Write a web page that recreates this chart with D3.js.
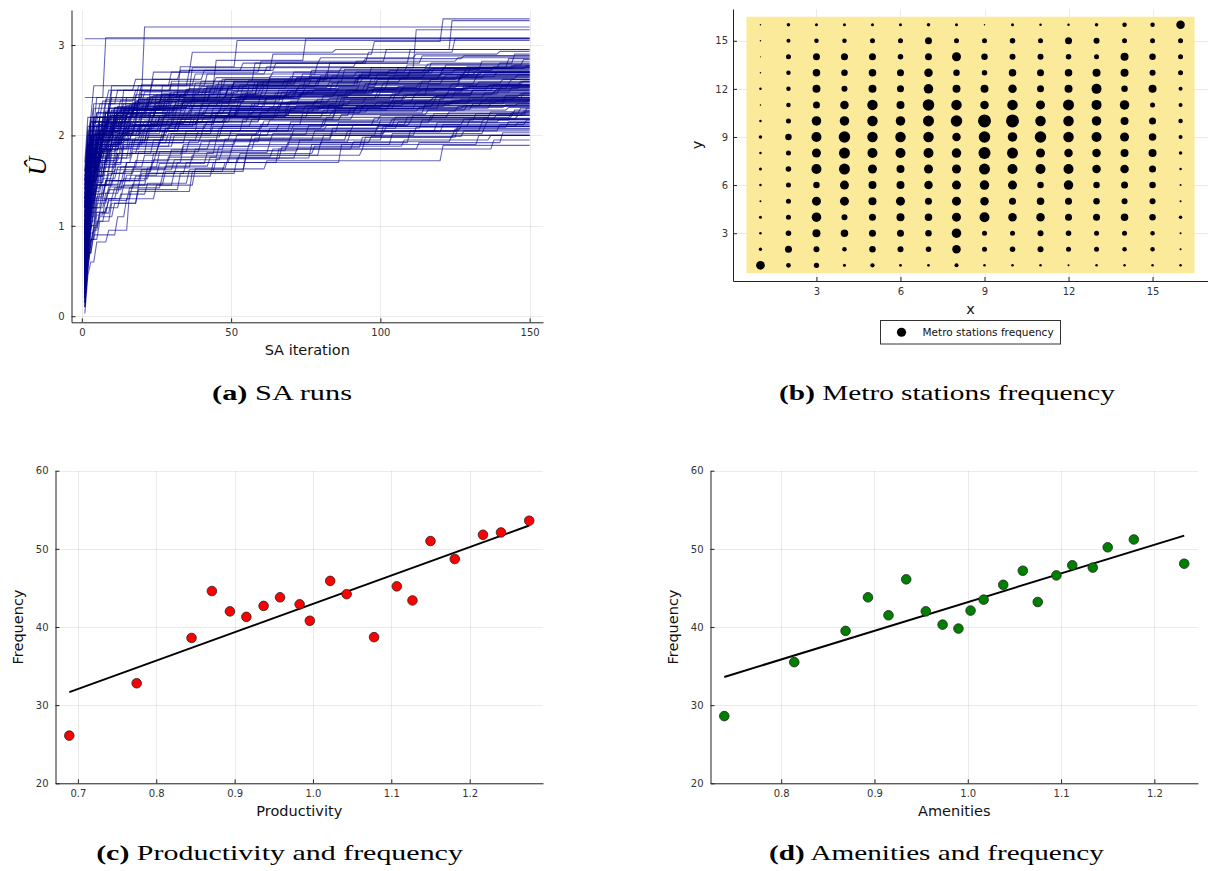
<!DOCTYPE html>
<html>
<head>
<meta charset="utf-8">
<script src="https://cdn.jsdelivr.net/npm/d3@7"></script>
<style>
  body { margin: 0; background: #fff; }
  svg { display: block; }
  .axis-label { font-family: "DejaVu Sans", sans-serif; font-size: 14.5px; fill: #111; }
  .caption { font-family: "Liberation Serif", serif; font-size: 21px; fill: #000; }
</style>
</head>
<body>
<svg id="chart" width="1208" height="871"></svg>
<script>
// (a) SA runs: best value so far, as [iteration, value] at each improvement
const saRuns = [
  [[1,3.07]],
  [[1,0.4],[2,1.6],[3,2.1],[5,2.42],[8,3.08]],
  [[1,2.42],[21,3.2]],
  [[1,0.1],[2,0.9],[3,1.5],[5,1.9],[9,2.2],[18,2.45],[33,2.76],[52,3.05]],
  [[1,0.8],[2,1.7],[4,2.0],[11,2.3],[27,2.55],[45,2.83],[75,3.07]],
  [[1,0.5],[2,1.2],[3,1.8],[6,2.2],[14,2.5],[37,2.75],[112,3.17]],
  [[1,1.1],[2,1.9],[4,2.3],[10,2.55],[36,2.72],[64,2.9],[98,3.04],[121,3.29]],
  [[1,0.3],[2,1.0],[3,1.6],[7,2.1],[19,2.4],[47,2.62],[83,2.8],[110,2.95],[124,3.27]],
  [[1,0.7],[2,1.5],[4,2.0],[9,2.35],[30,2.6],[58,2.8],[96,2.92],[125,3.07]],
  [[1,0.03],[2,0.45],[3,0.6],[5,0.82],[9,0.95],[16,1.38],[37,1.6],[48,1.7],[87,1.9],[133,2.0]],
  [[1,0.2],[2,0.7],[4,0.9],[12,1.1],[15,1.3],[25,1.45],[38,1.63],[62,1.72],[121,1.89]],
  [[1,0.15],[2,0.55],[3,0.85],[6,1.05],[10,1.25],[19,1.45],[31,1.6],[55,1.78],[94,1.85],[138,1.95]],
  [[1,0.6],[2,1.1],[4,1.35],[8,1.5],[22,1.64],[49,1.75],[72,1.85],[113,1.92],[141,2.03]],
  [[1,0.9],[2,1.4],[3,1.6],[7,1.75],[17,1.85],[43,1.95],[89,2.05],[127,2.1]],
  [[1,1.3],[2,1.7],[5,1.85],[13,1.95],[28,2.05],[66,2.12],[104,2.18],[146,2.22]],
  [[1,0.4],[2,0.95],[3,1.2],[5,1.45],[11,1.62],[24,1.8],[45,1.95],[78,2.05],[119,2.14]],
  [[1,0.25],[2,0.8],[3,1.1],[4,1.3],[8,1.5],[15,1.7],[34,1.88],[57,2.0],[101,2.1],[136,2.17]],
  [[1,1.0],[2,1.5],[3,1.8],[6,2.0],[16,2.12],[39,2.2],[81,2.28],[129,2.33]],
  [[1,0.55],[2,1.3],[4,1.7],[7,1.9],[14,2.05],[32,2.15],[60,2.25],[92,2.32],[118,2.38]],
  [[1,1.5],[2,1.9],[4,2.1],[12,2.2],[29,2.3],[70,2.38],[108,2.45]],
  [[1,0.35],[2,1.05],[3,1.4],[5,1.65],[10,1.85],[20,2.0],[41,2.12],[74,2.25],[115,2.35],[142,2.4]],
  [[1,0.75],[2,1.35],[3,1.65],[6,1.9],[13,2.1],[26,2.22],[53,2.35],[86,2.44],[131,2.5]],
  [[1,0.45],[2,1.2],[3,1.55],[5,1.8],[9,2.0],[18,2.18],[37,2.3],[65,2.4],[99,2.48],[128,2.55]],
  [[1,1.2],[2,1.75],[4,2.05],[8,2.25],[21,2.4],[46,2.5],[84,2.58],[117,2.62]],
  [[1,0.65],[2,1.45],[3,1.85],[6,2.1],[15,2.3],[33,2.45],[59,2.55],[93,2.65],[139,2.7]],
  [[1,0.95],[2,1.65],[4,2.0],[9,2.3],[23,2.5],[48,2.62],[77,2.72],[122,2.78]],
  [[1,0.3],[2,1.15],[3,1.6],[5,1.95],[11,2.25],[25,2.45],[51,2.6],[88,2.73],[134,2.82]],
  [[1,1.4],[2,1.95],[3,2.2],[8,2.4],[19,2.55],[42,2.68],[79,2.8],[114,2.88]],
  [[1,0.85],[2,1.55],[3,1.9],[7,2.15],[17,2.35],[35,2.5],[63,2.65],[97,2.75],[143,2.85]],
  [[1,0.5],[2,1.25],[3,1.65],[5,1.95],[12,2.2],[30,2.4],[56,2.55],[103,2.65],[130,2.74]],
  [[1,1.05],[2,1.6],[4,1.9],[10,2.05],[24,2.15],[50,2.22],[90,2.3],[137,2.36]],
  [[1,0.2],[2,0.85],[3,1.25],[4,1.5],[7,1.7],[14,1.9],[27,2.05],[54,2.18],[85,2.27],[126,2.32]],
  [[1,0.7],[2,1.3],[3,1.6],[6,1.8],[12,1.95],[28,2.08],[61,2.16],[100,2.22],[145,2.28]],
  [[1,1.25],[2,1.8],[5,2.05],[15,2.2],[36,2.28],[67,2.36],[111,2.42],[148,2.47]],
  [[1,0.4],[2,1.1],[3,1.45],[5,1.7],[9,1.9],[21,2.05],[44,2.2],[76,2.3],[120,2.41]],
  [[1,0.9],[2,1.5],[3,1.75],[7,1.95],[16,2.1],[38,2.25],[69,2.37],[105,2.46],[140,2.52]],
  [[1,0.6],[2,1.4],[4,1.8],[8,2.0],[20,2.2],[40,2.35],[73,2.45],[116,2.56]],
  [[1,1.6],[2,2.05],[5,2.25],[14,2.35],[31,2.43],[62,2.5],[95,2.57],[132,2.64]],
  [[1,0.35],[2,1.0],[3,1.35],[5,1.6],[10,1.8],[22,1.98],[47,2.1],[82,2.2],[123,2.26]],
  [[1,0.8],[2,1.45],[3,1.7],[6,1.88],[13,2.0],[29,2.1],[57,2.18],[91,2.24],[147,2.3]],
  [[1,1.15],[2,1.7],[4,1.95],[11,2.1],[26,2.2],[52,2.28],[80,2.34],[124,2.39]],
  [[1,0.25],[2,0.95],[3,1.3],[4,1.55],[8,1.78],[17,1.95],[39,2.05],[71,2.12],[109,2.2],[144,2.25]],
  [[1,1.35],[2,1.85],[3,2.1],[9,2.3],[23,2.42],[49,2.52],[86,2.6],[127,2.67]],
  [[1,0.55],[2,1.2],[3,1.5],[6,1.72],[13,1.88],[31,2.0],[63,2.08],[106,2.15],[135,2.19]],
  [[1,0.45],[2,1.3],[3,1.75],[6,2.05],[14,2.3],[32,2.48],[58,2.6],[99,2.68],[129,2.76]],
  [[1,1.0],[2,1.6],[3,1.95],[8,2.2],[18,2.38],[43,2.52],[75,2.63],[110,2.7]],
  [[1,0.15],[2,0.75],[3,1.15],[4,1.4],[6,1.6],[12,1.8],[24,1.95],[46,2.08],[81,2.17],[118,2.24],[149,2.3]],
  [[1,1.45],[2,1.9],[4,2.15],[10,2.28],[27,2.37],[55,2.44],[89,2.5],[136,2.55]],
  [[1,0.65],[2,1.35],[3,1.7],[5,1.9],[11,2.08],[25,2.2],[50,2.32],[87,2.42],[125,2.48]],
  [[1,0.85],[2,1.5],[4,1.85],[9,2.05],[20,2.2],[44,2.3],[78,2.38],[119,2.44]],
  [[1,0.3],[2,0.9],[3,1.2],[5,1.45],[9,1.65],[19,1.82],[36,1.94],[64,2.02],[102,2.1],[146,2.14]],
  [[1,1.2],[2,1.75],[3,2.0],[7,2.18],[16,2.3],[35,2.4],[66,2.5],[101,2.58],[141,2.62]],
  [[1,0.5],[2,1.15],[3,1.5],[5,1.75],[10,1.95],[23,2.12],[45,2.25],[83,2.35],[130,2.42]],
  [[1,0.95],[2,1.55],[3,1.8],[6,1.98],[15,2.12],[37,2.22],[70,2.3],[112,2.37],[150,2.4]],
  [[1,0.4],[2,1.25],[3,1.65],[5,2.0],[11,2.25],[28,2.42],[54,2.55],[92,2.64],[133,2.7]],
  [[1,1.3],[2,1.85],[4,2.15],[12,2.32],[30,2.45],[61,2.55],[97,2.63],[128,2.7]],
  [[1,0.7],[2,1.4],[3,1.8],[7,2.08],[17,2.28],[41,2.42],[72,2.52],[114,2.6]],
  [[1,0.1],[2,0.6],[3,0.95],[4,1.2],[7,1.45],[13,1.65],[26,1.82],[51,1.95],[84,2.04],[126,2.1]],
  [[1,1.55],[2,2.0],[4,2.2],[13,2.3],[34,2.37],[68,2.45],[107,2.52],[143,2.58]],
  [[1,0.6],[2,1.3],[3,1.65],[6,1.88],[14,2.05],[33,2.18],[65,2.28],[103,2.35],[137,2.4]],
  [[1,0.9],[2,1.6],[3,1.95],[7,2.2],[19,2.4],[42,2.55],[80,2.66],[121,2.75]],
  [[1,0.35],[2,1.05],[3,1.45],[5,1.72],[10,1.92],[22,2.08],[48,2.2],[85,2.29],[131,2.35]],
  [[1,1.1],[2,1.7],[4,2.0],[10,2.2],[25,2.33],[53,2.43],[90,2.5],[138,2.56]],
  [[1,0.75],[2,1.45],[3,1.8],[6,2.05],[15,2.25],[34,2.38],[67,2.48],[108,2.55],[147,2.6]],
  [[1,0.45],[2,1.15],[3,1.55],[5,1.82],[12,2.02],[27,2.15],[56,2.25],[94,2.33],[134,2.38]],
  [[1,1.4],[2,1.9],[3,2.15],[8,2.35],[21,2.48],[46,2.6],[82,2.7],[117,2.8],[145,2.9]],
  [[1,0.55],[2,1.35],[3,1.75],[6,2.05],[13,2.28],[29,2.45],[59,2.58],[93,2.67],[132,2.72]],
  [[1,0.2],[2,0.8],[3,1.2],[4,1.45],[7,1.68],[14,1.88],[30,2.02],[60,2.12],[98,2.19],[139,2.23]],
  [[1,1.0],[2,1.55],[3,1.85],[6,2.05],[14,2.2],[32,2.32],[62,2.42],[100,2.48],[144,2.53]],
  [[1,0.65],[2,1.5],[3,1.9],[6,2.2],[15,2.42],[38,2.58],[71,2.7],[109,2.78],[148,2.84]],
  [[1,1.2],[2,1.8],[4,2.1],[9,2.3],[20,2.45],[45,2.56],[77,2.64],[115,2.7]],
  [[1,0.8],[2,1.45],[3,1.75],[5,1.95],[11,2.1],[24,2.22],[52,2.32],[88,2.4],[122,2.46]],
  [[1,0.4],[2,1.0],[3,1.35],[5,1.6],[11,1.8],[26,1.95],[50,2.05],[91,2.12],[128,2.18]],
  [[1,1.5],[2,1.95],[3,2.2],[7,2.38],[18,2.5],[40,2.6],[74,2.68],[106,2.75],[140,2.8]],
  [[1,0.55],[2,1.25],[3,1.6],[6,1.85],[16,2.05],[39,2.2],[69,2.3],[105,2.38],[142,2.44]],
  [[1,0.95],[2,1.65],[3,2.0],[8,2.25],[22,2.42],[49,2.54],[79,2.62],[120,2.68]],
  [[1,0.25],[2,0.85],[3,1.25],[5,1.55],[8,1.75],[16,1.92],[35,2.05],[70,2.15],[111,2.22],[149,2.27]],
  [[1,1.3],[2,1.75],[4,2.0],[10,2.15],[28,2.26],[57,2.35],[95,2.42],[135,2.47]],
  [[1,0.7],[2,1.4],[3,1.7],[5,1.92],[10,2.1],[23,2.25],[47,2.36],[81,2.44],[123,2.5]],
  [[1,0.5],[2,1.2],[3,1.6],[6,1.9],[13,2.15],[31,2.33],[60,2.47],[96,2.56],[127,2.65]],
  [[1,0.9],[2,1.8],[4,2.2],[10,2.5],[24,2.7],[37,2.92],[85,2.95]],
  [[1,1.7],[2,2.2],[4,2.55],[30,2.7],[60,2.82],[102,2.95]],
  [[1,0.6],[2,1.2],[3,1.5],[4,1.7],[6,1.85],[9,1.98],[14,2.08],[21,2.16],[33,2.24],[48,2.3],[67,2.37],[88,2.42],[112,2.47],[139,2.51]],
  [[1,0.3],[2,0.9],[3,1.3],[4,1.55],[6,1.75],[8,1.9],[12,2.02],[18,2.12],[27,2.2],[41,2.28],[58,2.35],[79,2.4],[104,2.46],[131,2.5]],
  [[1,1.1],[2,1.5],[3,1.75],[5,1.92],[8,2.05],[13,2.15],[20,2.25],[31,2.33],[46,2.4],[65,2.47],[86,2.53],[113,2.58],[144,2.62]],
  [[1,0.8],[2,1.3],[3,1.55],[5,1.72],[7,1.84],[11,1.95],[17,2.04],[26,2.12],[39,2.19],[57,2.26],[78,2.31],[101,2.36],[127,2.4]],
  [[1,0.45],[2,1.05],[3,1.4],[4,1.62],[6,1.8],[10,1.96],[15,2.1],[23,2.22],[35,2.32],[50,2.42],[69,2.5],[93,2.57],[121,2.63],[146,2.67]],
  [[1,1.25],[2,1.65],[3,1.88],[5,2.02],[9,2.14],[14,2.24],[22,2.33],[34,2.41],[51,2.49],[73,2.56],[99,2.62],[126,2.66]],
  [[1,0.2],[2,0.7],[3,1.05],[4,1.3],[5,1.48],[8,1.65],[12,1.8],[19,1.92],[29,2.02],[44,2.1],[63,2.17],[87,2.23],[116,2.28],[143,2.31]],
  [[1,0.95],[2,1.45],[3,1.7],[4,1.86],[7,2.0],[11,2.12],[16,2.22],[25,2.3],[38,2.38],[55,2.45],[76,2.5],[102,2.55],[133,2.59]],
  [[1,0.55],[2,1.15],[3,1.5],[5,1.75],[7,1.9],[10,2.03],[16,2.14],[24,2.24],[37,2.33],[54,2.41],[74,2.47],[98,2.52],[124,2.57],[148,2.6]],
  [[1,1.45],[2,1.8],[3,2.0],[6,2.15],[10,2.26],[17,2.36],[27,2.45],[42,2.53],[61,2.6],[84,2.66],[110,2.72],[138,2.76]],
  [[1,0.35],[2,0.95],[3,1.3],[4,1.52],[6,1.7],[9,1.84],[13,1.96],[20,2.06],[30,2.14],[45,2.21],[66,2.27],[92,2.32],[122,2.36]],
  [[1,0.7],[2,1.35],[3,1.68],[5,1.9],[8,2.06],[12,2.18],[19,2.29],[28,2.38],[43,2.46],[60,2.53],[83,2.59],[107,2.64],[135,2.68]],
  [[1,1.05],[2,1.55],[3,1.82],[5,1.98],[8,2.1],[13,2.2],[21,2.28],[32,2.35],[47,2.4],[68,2.45],[91,2.49],[119,2.52],[147,2.55]],
  [[1,0.25],[2,0.85],[3,1.2],[4,1.45],[6,1.64],[9,1.8],[14,1.94],[22,2.05],[33,2.15],[49,2.23],[70,2.3],[95,2.35],[125,2.39]],
  [[1,0.85],[2,1.4],[3,1.72],[5,1.95],[8,2.12],[12,2.26],[18,2.37],[27,2.46],[40,2.54],[56,2.61],[77,2.67],[103,2.72],[132,2.75]],
  [[1,1.35],[2,1.7],[4,1.9],[7,2.03],[11,2.13],[18,2.22],[28,2.3],[43,2.37],[62,2.43],[85,2.48],[114,2.52],[141,2.55]],
  [[1,0.5],[2,1.1],[3,1.42],[4,1.62],[6,1.78],[9,1.9],[14,2.0],[21,2.08],[32,2.15],[48,2.21],[69,2.26],[96,2.3],[128,2.33]],
  [[1,0.65],[2,1.25],[3,1.6],[5,1.85],[7,2.0],[11,2.15],[17,2.28],[26,2.38],[38,2.47],[53,2.56],[72,2.63],[94,2.69],[118,2.74],[145,2.78]],
  [[1,1.15],[2,1.6],[3,1.85],[6,2.02],[10,2.14],[15,2.23],[24,2.31],[36,2.38],[52,2.43],[74,2.48],[100,2.51],[129,2.54]],
  [[1,0.4],[2,1.0],[3,1.38],[4,1.6],[6,1.77],[10,1.92],[15,2.04],[23,2.13],[35,2.2],[52,2.27],[75,2.33],[104,2.38],[136,2.42]],
  [[1,0.9],[2,1.5],[3,1.8],[5,2.0],[8,2.16],[12,2.28],[19,2.39],[30,2.48],[44,2.56],[63,2.63],[86,2.69],[115,2.74],[149,2.77]],
  [[1,0.15],[2,0.65],[3,1.0],[4,1.25],[5,1.42],[7,1.56],[11,1.7],[17,1.82],[26,1.92],[40,2.0],[59,2.06],[82,2.11],[110,2.15],[140,2.18]],
  [[1,1.5],[2,1.85],[3,2.05],[6,2.2],[11,2.31],[19,2.4],[31,2.48],[47,2.55],[68,2.61],[93,2.66],[121,2.7]],
  [[1,0.75],[2,1.3],[3,1.6],[5,1.8],[8,1.95],[12,2.06],[18,2.15],[28,2.23],[42,2.3],[61,2.36],[83,2.41],[109,2.45],[138,2.48]],
  [[1,0.6],[2,1.2],[3,1.55],[4,1.76],[7,1.94],[10,2.08],[16,2.2],[25,2.3],[37,2.39],[54,2.47],[75,2.54],[99,2.6],[127,2.65]],
  [[1,1.0],[2,1.5],[3,1.78],[5,1.96],[9,2.1],[14,2.2],[22,2.29],[34,2.36],[50,2.42],[71,2.47],[97,2.51],[130,2.54]],
  [[1,0.3],[2,0.9],[3,1.28],[4,1.52],[6,1.72],[9,1.88],[13,2.0],[20,2.11],[31,2.2],[46,2.28],[66,2.34],[90,2.39],[118,2.43],[147,2.46]],
  [[1,1.2],[2,1.7],[3,1.95],[5,2.1],[9,2.22],[15,2.33],[23,2.43],[35,2.51],[51,2.58],[72,2.64],[97,2.69],[125,2.73]],
  [[1,0.45],[2,1.1],[3,1.45],[4,1.66],[6,1.82],[9,1.95],[14,2.06],[22,2.15],[34,2.22],[50,2.28],[72,2.33],[99,2.37],[131,2.4]],
  [[1,0.85],[2,1.35],[3,1.62],[4,1.8],[7,1.93],[11,2.03],[17,2.11],[26,2.18],[39,2.24],[58,2.29],[81,2.33],[108,2.36],[139,2.38]],
  [[1,0.55],[2,1.25],[3,1.65],[5,1.92],[7,2.08],[11,2.22],[16,2.34],[24,2.44],[36,2.52],[51,2.59],[70,2.65],[92,2.7],[117,2.74],[144,2.77]],
  [[1,1.3],[2,1.75],[3,1.98],[6,2.12],[10,2.22],[16,2.3],[25,2.37],[38,2.42],[55,2.47],[78,2.51],[106,2.54],[137,2.56]],
  [[1,0.2],[2,0.75],[3,1.12],[4,1.38],[5,1.56],[8,1.72],[12,1.86],[18,1.98],[28,2.08],[42,2.16],[60,2.22],[84,2.27],[113,2.31],[142,2.34]],
  [[1,0.95],[2,1.6],[3,1.92],[5,2.12],[8,2.27],[13,2.39],[20,2.49],[30,2.57],[45,2.64],[64,2.7],[87,2.75],[116,2.79]],
  [[1,0.7],[2,1.3],[3,1.62],[4,1.82],[7,1.98],[10,2.1],[15,2.2],[23,2.28],[35,2.35],[52,2.41],[73,2.46],[98,2.5],[128,2.53]],
  [[1,1.4],[2,1.8],[4,2.02],[7,2.14],[12,2.24],[20,2.32],[32,2.39],[48,2.44],[70,2.49],[96,2.53],[126,2.56]],
  [[1,0.35],[2,1.0],[3,1.36],[4,1.58],[6,1.76],[8,1.88],[12,2.0],[19,2.1],[29,2.18],[44,2.25],[63,2.31],[88,2.36],[117,2.4],[145,2.42]],
  [[1,0.8],[2,1.45],[3,1.76],[5,1.97],[8,2.13],[12,2.25],[18,2.36],[28,2.45],[41,2.52],[59,2.58],[80,2.63],[105,2.67],[134,2.7]],
  [[1,0.5],[2,1.15],[3,1.48],[5,1.7],[7,1.84],[11,1.96],[17,2.06],[27,2.14],[41,2.21],[60,2.26],[85,2.3],[115,2.33],[146,2.35]],
  [[1,1.1],[2,1.65],[3,1.9],[5,2.06],[9,2.18],[14,2.28],[22,2.37],[33,2.45],[49,2.52],[69,2.58],[94,2.63],[122,2.67]],
  [[1,0.1],[2,0.5],[3,0.8],[4,1.0],[6,1.15],[9,1.3],[14,1.45],[22,1.58],[35,1.7],[53,1.8],[78,1.88],[108,1.95],[137,2.0]],
  [[1,0.3],[2,0.75],[3,1.0],[5,1.2],[8,1.36],[13,1.5],[20,1.62],[31,1.73],[47,1.83],[69,1.92],[97,1.99],[128,2.05]],
  [[1,0.5],[2,0.95],[4,1.15],[7,1.3],[11,1.42],[18,1.55],[28,1.66],[43,1.76],[64,1.85],[91,1.93],[124,2.0]],
  [[1,0.2],[2,0.6],[3,0.85],[5,1.05],[8,1.2],[13,1.35],[22,1.47],[36,1.62],[55,1.78],[80,1.92],[110,2.05],[140,2.12]],
  [[1,0.45],[2,0.8],[3,1.0],[5,1.15],[9,1.28],[16,1.42],[27,1.55],[44,1.7],[66,1.85],[95,1.98],[126,2.08]],
  [[1,0.35],[2,0.7],[4,0.95],[6,1.1],[11,1.25],[19,1.4],[33,1.58],[52,1.75],[77,1.9],[104,2.02],[135,2.1]],
  [[1,0.6],[2,1.0],[3,1.2],[6,1.36],[10,1.5],[17,1.63],[29,1.76],[46,1.88],[70,2.0],[99,2.1],[130,2.18]],
  [[1,0.25],[2,0.65],[3,0.92],[5,1.12],[8,1.3],[12,1.44],[20,1.58],[32,1.7],[50,1.83],[73,1.95],[101,2.05],[134,2.14]],
  [[1,0.75],[2,1.1],[3,1.3],[5,1.45],[9,1.58],[15,1.7],[25,1.82],[40,1.93],[60,2.04],[86,2.14],[117,2.22],[148,2.27]],
  [[1,0.5],[2,0.9],[3,1.15],[5,1.32],[8,1.46],[14,1.6],[24,1.73],[38,1.85],[58,1.97],[84,2.08],[114,2.17],[144,2.22]],
  [[1,0.15],[2,0.55],[3,0.8],[4,0.98],[6,1.14],[10,1.3],[17,1.46],[28,1.6],[45,1.74],[67,1.87],[94,1.98],[125,2.07]],
  [[1,0.9],[2,1.2],[4,1.38],[7,1.52],[12,1.65],[21,1.78],[34,1.9],[52,2.01],[76,2.11],[105,2.2],[137,2.26]],
  [[1,0.4],[2,0.85],[3,1.1],[5,1.28],[9,1.43],[15,1.56],[26,1.69],[42,1.81],[63,1.93],[90,2.04],[121,2.12],[149,2.17]],
  [[1,0.65],[2,1.05],[3,1.28],[6,1.45],[10,1.58],[18,1.72],[30,1.84],[48,1.96],[71,2.07],[100,2.17],[132,2.24]],
  [[1,0.3],[2,0.78],[3,1.05],[5,1.25],[9,1.4],[14,1.52],[23,1.65],[37,1.78],[56,1.9],[81,2.0],[112,2.09],[143,2.15]],
  [[1,1.6],[2,2.1],[4,2.35],[9,2.5],[18,2.62],[33,2.72],[54,2.8],[80,2.86],[112,2.9],[140,2.93]],
  [[1,1.2],[2,1.8],[3,2.15],[6,2.35],[12,2.5],[24,2.62],[41,2.72],[65,2.8],[95,2.85],[128,2.88]],
  [[1,0.9],[2,1.6],[3,2.0],[5,2.25],[10,2.42],[20,2.56],[38,2.68],[62,2.76],[92,2.82],[126,2.86]]
]
const saLastIter = 150
const saXTicks = [0, 50, 100, 150]
const saYTicks = [0, 1, 2, 3]

// (b) metro stations frequency on a 16 x 16 grid, rows listed from y = 16 down to y = 1
const stationX = [1, 2, 3, 4, 5, 6, 7, 8, 9, 10, 11, 12, 13, 14, 15, 16]
const stationY = [16, 15, 14, 13, 12, 11, 10, 9, 8, 7, 6, 5, 4, 3, 2, 1]
const stationFreq = [
  [1.5, 3.5, 3, 3, 3, 3, 3.5, 3, 1.5, 3, 2.5, 2.5, 3.5, 4.5, 4.5, 8.5],
  [1.5, 4, 4.5, 4.5, 5, 5, 7, 5, 5, 5.5, 5, 7, 6, 5, 5, 5],
  [1, 5, 7, 7, 7, 5.5, 7, 9, 6.5, 6, 6, 5.5, 5, 8, 6.5, 5],
  [1.5, 4.5, 7.5, 6.5, 7.5, 7, 8.5, 6.5, 5.5, 7.5, 7, 7.5, 8, 8, 6, 5],
  [2.5, 4.5, 8, 6, 8, 7, 9.5, 8, 8, 8.5, 7, 8, 10, 6.5, 8, 4],
  [1.5, 4.5, 7, 8.5, 10.5, 8, 11.5, 10.5, 8.5, 10.5, 9, 11, 10, 9.5, 5, 4],
  [2.5, 5, 9.5, 9.5, 10.5, 9.5, 11, 11.5, 13, 13, 10.5, 10.5, 9.5, 8, 7, 4.5],
  [3.5, 6.5, 10, 11.5, 10.5, 10.5, 10.5, 8.5, 11.5, 9.5, 11.5, 10.5, 10, 9, 7.5, 4],
  [2.5, 5, 9, 11, 10, 10, 10, 9.5, 12, 11, 9, 8.5, 8.5, 8, 8, 3.5],
  [3, 5.5, 10, 11, 9, 8, 9, 9, 11, 10, 10, 10, 8.5, 8.5, 7, 2.5],
  [2.5, 5, 6.5, 9, 8, 8, 8.5, 9, 9.5, 9, 6.5, 9.5, 6.5, 7, 6.5, 2],
  [2, 5, 9, 9, 8, 9, 7, 9, 8.5, 7, 7.5, 7, 6.5, 6, 6, 2],
  [3, 5, 9.5, 6, 7, 8, 7.5, 9, 10, 8.5, 8.5, 7, 7, 7.5, 6.5, 3.5],
  [2.5, 5.5, 8, 7.5, 7, 7, 6.5, 9.5, 5, 5, 6, 5.5, 5, 5, 4.5, 2],
  [3.3, 7, 6, 4.5, 6.5, 6, 5.5, 8.5, 5, 5.5, 6, 5, 5, 4.5, 4.5, 2],
  [8.7, 4.7, 5.3, 3, 4.3, 2.7, 2.7, 4, 2.5, 2.5, 2.5, 2, 2.5, 2.5, 2.5, 2.5]
]
const gridTicks = [3, 6, 9, 12, 15]

// (c) productivity vs frequency
const productivity = [0.689, 0.775, 0.845, 0.871, 0.894, 0.915, 0.937, 0.958, 0.983, 0.996, 1.022, 1.043, 1.078, 1.107, 1.127, 1.150, 1.181, 1.217, 1.240, 1.276]
const prodFreq = [26.1, 32.8, 38.6, 44.6, 42.0, 41.3, 42.7, 43.8, 42.9, 40.8, 45.9, 44.2, 38.7, 45.2, 43.4, 51.0, 48.7, 51.8, 52.1, 53.6]
const prodTicks = [0.7, 0.8, 0.9, 1.0, 1.1, 1.2]

// (d) amenities vs frequency
const amenities = [0.739, 0.814, 0.869, 0.893, 0.915, 0.934, 0.955, 0.973, 0.990, 1.003, 1.017, 1.038, 1.059, 1.075, 1.095, 1.112, 1.134, 1.150, 1.178, 1.232]
const amenFreq = [28.6, 35.5, 39.5, 43.8, 41.5, 46.1, 42.0, 40.3, 39.8, 42.1, 43.5, 45.4, 47.2, 43.2, 46.6, 47.9, 47.6, 50.2, 51.2, 48.1]
const amenTicks = [0.8, 0.9, 1.0, 1.1, 1.2]
const freqTicks = [20, 30, 40, 50, 60]

const svg = d3.select("#chart")

function widen([lo, hi]) {
  const pad = (hi - lo) * 0.03
  return [lo - pad, hi + pad]
}

function drawGrid(g, x, y, xTicks, yTicks) {
  const [x0, x1] = x.range()
  const [y0, y1] = y.range()
  const grid = g.append("g")
      .attr("stroke", "#000")
      .attr("stroke-opacity", 0.08)
      .attr("stroke-width", 1)
  grid.selectAll("line.gx")
      .data(xTicks)
      .join("line")
      .attr("class", "gx")
      .attr("x1", d => Math.round(x(d)) + 0.5)
      .attr("x2", d => Math.round(x(d)) + 0.5)
      .attr("y1", y0)
      .attr("y2", y1)
  grid.selectAll("line.gy")
      .data(yTicks)
      .join("line")
      .attr("class", "gy")
      .attr("x1", x0)
      .attr("x2", x1)
      .attr("y1", d => Math.round(y(d)) + 0.5)
      .attr("y2", d => Math.round(y(d)) + 0.5)
}

function drawAxes(g, x, y, xTicks, yTicks, xFormat, yFormat, yPad) {
  const xAxis = g.append("g")
      .attr("transform", `translate(0,${y.range()[0]})`)
      .call(d3.axisBottom(x).tickValues(xTicks).tickFormat(xFormat).tickSize(-4).tickSizeOuter(0).tickPadding(7))
  const yAxis = g.append("g")
      .attr("transform", `translate(${x.range()[0]},0)`)
      .call(d3.axisLeft(y).tickValues(yTicks).tickFormat(yFormat).tickSize(-4).tickSizeOuter(0).tickPadding(yPad || 7))
  for (const a of [xAxis, yAxis]) {
    a.attr("font-family", "DejaVu Sans, sans-serif").attr("font-size", 10)
    a.select(".domain").attr("stroke", "#222")
    a.selectAll(".tick line").attr("stroke", "#222")
    a.selectAll(".tick text").attr("fill", "#333")
  }
}

function axisLabel(text, x, y, rotate) {
  svg.append("text")
      .attr("class", "axis-label")
      .attr("text-anchor", "middle")
      .attr("transform", `translate(${x},${y})` + (rotate ? " rotate(-90)" : ""))
      .text(text)
}

function caption(tag, rest, cx, y, width) {
  const t = svg.append("text")
      .attr("class", "caption")
      .attr("text-anchor", "middle")
  t.append("tspan").attr("font-weight", "bold").text(tag)
  t.append("tspan").text(" " + rest)
  const w = t.node().getComputedTextLength()
  t.attr("transform", `translate(${cx},${y}) scale(${width / w},1)`)
}

// ---- (a) SA runs
function stepPoints(run) {
  const pts = [run[0]]
  for (let i = 1; i < run.length; i++) {
    pts.push([run[i][0] - 1, run[i - 1][1]], run[i])
  }
  const last = run[run.length - 1]
  if (last[0] < saLastIter) pts.push([saLastIter, last[1]])
  return pts
}

{
  const allVals = saRuns.flat().map(d => d[1])
  const x = d3.scaleLinear().domain(widen([1, saLastIter])).range([71.5, 543])
  const y = d3.scaleLinear().domain(widen(d3.extent(allVals))).range([322.3, 10])
  const g = svg.append("g")
  drawGrid(g, x, y, saXTicks, saYTicks)

  const line = d3.line().x(d => x(d[0])).y(d => y(d[1]))
  g.append("g")
      .selectAll("path")
      .data(saRuns)
      .join("path")
      .attr("d", r => line(stepPoints(r)))
      .attr("fill", "none")
      .attr("stroke", "#00008b")
      .attr("stroke-opacity", 0.6)
      .attr("stroke-width", 1.1)

  drawAxes(g, x, y, saXTicks, saYTicks, d3.format("d"), d3.format("d"))
  axisLabel("SA iteration", (71.5 + 543) / 2, 355)
  svg.append("text")
      .attr("transform", "translate(46,166) rotate(-90)")
      .attr("text-anchor", "middle")
      .attr("font-family", "Liberation Serif, serif")
      .attr("font-style", "italic")
      .attr("font-size", 26)
      .text("Û")
}

// ---- (b) metro stations frequency
{
  const x = d3.scaleLinear().domain(widen([0.5, 16.5])).range([733, 1208])
  const y = d3.scaleLinear().domain(widen([0.5, 16.5])).range([281, 9])
  const g = svg.append("g")
  drawGrid(g, x, y, gridTicks, gridTicks)

  g.append("rect")
      .attr("x", x(0.5))
      .attr("y", y(16.5))
      .attr("width", x(16.5) - x(0.5))
      .attr("height", y(0.5) - y(16.5))
      .attr("fill", "#fcea9b")

  const cells = stationFreq.flatMap((row, i) => row.map((v, j) => ({ x: stationX[j], y: stationY[i], v })))
  const size = d3.scaleLinear().domain([0, d3.max(cells, d => d.v)]).range([0, 6.5])
  g.append("g")
      .selectAll("circle")
      .data(cells)
      .join("circle")
      .attr("cx", d => x(d.x))
      .attr("cy", d => y(d.y))
      .attr("r", d => size(d.v))
      .attr("fill", "#000")

  drawAxes(g, x, y, gridTicks, gridTicks, d3.format("d"), d3.format("d"), 5)
  axisLabel("x", (733 + 1208) / 2, 314)
  axisLabel("y", 702, 145, true)

  const legend = svg.append("g").attr("transform", "translate(880.5,320.5)")
  legend.append("rect")
      .attr("width", 180)
      .attr("height", 23.5)
      .attr("fill", "#fff")
      .attr("stroke", "#333")
      .attr("stroke-width", 1)
  legend.append("circle")
      .attr("cx", 21)
      .attr("cy", 11.75)
      .attr("r", 4.6)
      .attr("fill", "#000")
  legend.append("text")
      .attr("x", 42)
      .attr("y", 15.5)
      .attr("font-family", "DejaVu Sans, sans-serif")
      .attr("font-size", 10.5)
      .attr("fill", "#111")
      .text("Metro stations frequency")
}

// ---- (c) and (d) scatter with fitted line
function scatterPanel(xs, ys, xTicks, range, fill, xLabel, yLabelX) {
  const x = d3.scaleLinear().domain(widen(d3.extent(xs))).range(range)
  const y = d3.scaleLinear().domain([20, 60]).range([783.3, 470.7])
  const g = svg.append("g")
  drawGrid(g, x, y, xTicks, freqTicks)

  const mx = d3.mean(xs)
  const my = d3.mean(ys)
  const slope = d3.sum(xs, (v, i) => (v - mx) * (ys[i] - my)) / d3.sum(xs, v => (v - mx) ** 2)
  const fit = d3.extent(xs).map(v => [v, my + slope * (v - mx)])
  g.append("path")
      .attr("d", d3.line().x(d => x(d[0])).y(d => y(d[1]))(fit))
      .attr("stroke", "#000")
      .attr("stroke-width", 2)

  g.append("g")
      .selectAll("circle")
      .data(xs.map((v, i) => [v, ys[i]]))
      .join("circle")
      .attr("cx", d => x(d[0]))
      .attr("cy", d => y(d[1]))
      .attr("r", 4.8)
      .attr("fill", fill)
      .attr("stroke", "#222")
      .attr("stroke-width", 0.8)

  drawAxes(g, x, y, xTicks, freqTicks, d3.format(".1f"), d3.format("d"))
  axisLabel(xLabel, (range[0] + range[1]) / 2, 816)
  axisLabel("Frequency", yLabelX, 627, true)
}

scatterPanel(productivity, prodFreq, prodTicks, [55.5, 543], "#ff0000", "Productivity", 23)
scatterPanel(amenities, amenFreq, amenTicks, [710.5, 1198], "#008000", "Amenities", 678)

// ---- captions
caption("(a)", "SA runs", 282, 400, 140)
caption("(b)", "Metro stations frequency", 947, 400, 336)
caption("(c)", "Productivity and frequency", 279.5, 860, 367)
caption("(d)", "Amenities and frequency", 936.5, 860, 335)
</script>
</body>
</html>
